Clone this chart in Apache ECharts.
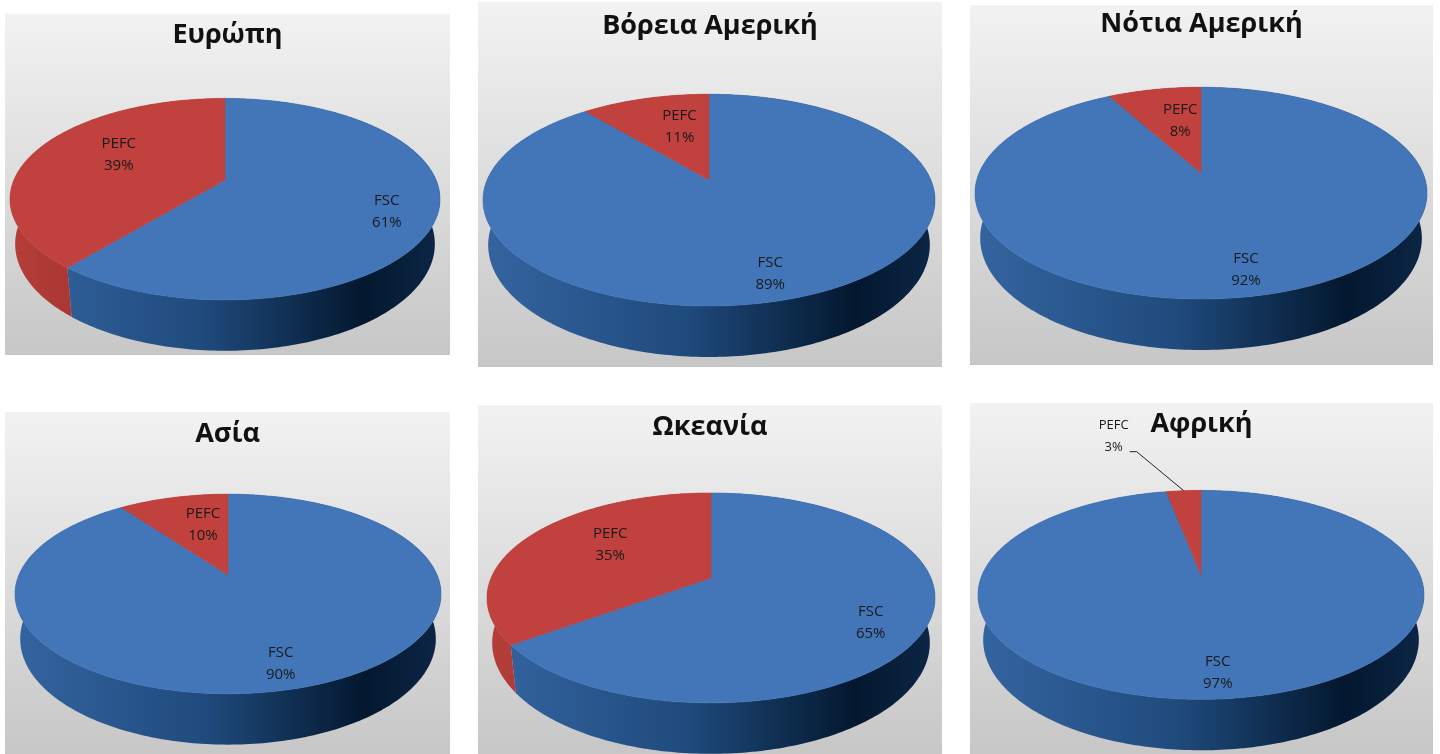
<!DOCTYPE html>
<html>
<head>
<meta charset="utf-8">
<script src="https://cdn.jsdelivr.net/npm/echarts@6/dist/echarts.min.js"></script>
<style>
  html, body { margin: 0; padding: 0; background: #fff; }
  #chart { width: 1440px; height: 754px; }
</style>
</head>
<body>
<div id="chart"></div>
<script>
// data: share of certified area per certification scheme, by continent
var regions = ['Ευρώπη', 'Βόρεια Αμερική', 'Νότια Αμερική', 'Ασία', 'Ωκεανία', 'Αφρική'];
var schemes = ['FSC', 'PEFC'];
var fscShare = [61, 89, 92, 90, 65, 97];
var pefcShare = [39, 11, 8, 10, 35, 3];

// layout: panel box [x, y, w, h], pie apex (cx, cy), pie half width, title centre y
var panels = [
  { box: [5, 14, 445, 341], cx: 225, cy: 180, w: 215, ty: 40 },
  { box: [478, 2, 464, 365], cx: 709, cy: 180, w: 226, ty: 31 },
  { box: [970, 5, 463, 360], cx: 1201, cy: 173, w: 226, ty: 29 },
  { box: [5, 412, 445, 342], cx: 228, cy: 575, w: 213, ty: 439 },
  { box: [478, 405, 464, 349], cx: 711, cy: 578, w: 224, ty: 432 },
  { box: [970, 403, 463, 351], cx: 1201, cy: 575, w: 223, ty: 429 }
];
var topColors = ['#4276b8', '#c0413d'];
var sideStops = [
  [[0, '#3464a0'], [0.45, '#1f4a7c'], [0.82, '#03182f'], [1, '#0c2646']],
  [[0, '#b63e39'], [0.3, '#9c2f2b'], [1, '#5a1512']]
];

// fake 3D: tilt and perspective shared by all pies
var SIN_T = 0.46, COS_T = Math.sqrt(1 - SIN_T * SIN_T), PERSP = 0.19, DEPTH = 51;

function pieSeries(i) {
  var p = panels[i];
  var vals = [fscShare[i], pefcShare[i]];
  var total = vals[0] + vals[1];
  var R = p.w * Math.sqrt(1 - PERSP * PERSP);
  var F = R * COS_T / PERSP;
  function proj(phi, r, z) {
    var X = r * Math.sin(phi), Y = r * Math.cos(phi);
    var u = Y * SIN_T + z * COS_T, d = Y * COS_T - z * SIN_T, s = F / (F + d);
    return [p.cx + X * s, p.cy - u * s];
  }
  return {
    type: 'custom',
    coordinateSystem: 'none',
    silent: true,
    data: vals.map(function (v, j) { return { name: schemes[j], value: v }; }),
    renderItem: function (params, api) {
      var j = params.dataIndex;
      var v = api.value(0);
      var start = 0;
      for (var m = 0; m < j; m++) start += vals[m];
      var a0 = start / total * Math.PI * 2, a1 = (start + v) / total * Math.PI * 2;
      var n = Math.max(2, Math.ceil((a1 - a0) / (Math.PI / 180)));
      var rimTop = [], rimBot = [];
      for (var t = 0; t <= n; t++) {
        var a = a0 + (a1 - a0) * t / n;
        rimTop.push(proj(a, R, 0));
        rimBot.push(proj(a, R, -DEPTH));
      }
      var grad = new echarts.graphic.LinearGradient(0, 0, 1, 0,
        sideStops[j].map(function (s) { return { offset: s[0], color: s[1] }; }), true);
      grad.x = p.cx - p.w; grad.x2 = p.cx + p.w; grad.y = 0; grad.y2 = 0;
      var children = [
        { type: 'polygon', z2: 1, shape: { points: rimTop.concat(rimBot.slice().reverse()) },
          style: { fill: grad } },
        { type: 'polygon', z2: 5, shape: { points: [proj(0, 0, 0)].concat(rimTop) },
          style: { fill: topColors[j], stroke: topColors[j], lineWidth: 0.6 } }
      ];
      var mid = (a0 + a1) / 2;
      var share = v / total;
      var text = schemes[j] + '\n' + v + '%';
      if (share < 0.05) {
        // tiny slice: label outside with a leader line
        var rim = proj(mid, R, 0);
        var elbow = [rim[0] - 47, rim[1] - 39];
        var end = [elbow[0] - 7, elbow[1]];
        children.push({ type: 'polyline', z2: 10, shape: { points: [rim, elbow, end] },
          style: { stroke: '#222', lineWidth: 1, fill: null } });
        children.push({ type: 'text', z2: 10, x: end[0] - 16, y: elbow[1] - 15,
          style: { text: text, align: 'center', verticalAlign: 'middle', lineHeight: 22,
            font: '13px "Open Sans"', fill: '#1a1a1a' } });
      } else {
        var big = share > 0.5;
        var rho = big ? 0.8 : 0.33 + 0.5 * share;
        var q = big ? 0.55 : 0.65;
        var lx = p.cx + rho * p.w * Math.sin(mid);
        var ly = p.cy - rho * p.w * q * Math.cos(mid);
        children.push({ type: 'text', z2: 10, x: lx, y: ly,
          style: { text: text, align: 'center', verticalAlign: 'middle', lineHeight: 22,
            font: '15px "Open Sans"', fill: '#1a1a1a' } });
      }
      return { type: 'group', children: children };
    }
  };
}

var chart = echarts.init(document.getElementById('chart'), null, { renderer: 'canvas' });
chart.setOption({
  backgroundColor: '#ffffff',
  animation: false,
  title: regions.map(function (r, i) {
    var b = panels[i].box;
    return {
      text: r, left: b[0] + b[2] / 2, top: panels[i].ty - 18, textAlign: 'center', padding: 0,
      textStyle: { fontFamily: 'Open Sans', fontWeight: 'bold', fontSize: 27, color: '#111' }
    };
  }),
  graphic: panels.map(function (p) {
    return {
      type: 'rect', z: -10, silent: true,
      shape: { x: p.box[0], y: p.box[1], width: p.box[2], height: p.box[3] },
      style: {
        fill: new echarts.graphic.LinearGradient(0, 0, 0, 1, [
          { offset: 0, color: '#f2f2f2' }, { offset: 1, color: '#c7c7c7' }
        ])
      }
    };
  }),
  series: regions.map(function (r, i) { return pieSeries(i); })
});
</script>
</body>
</html>
